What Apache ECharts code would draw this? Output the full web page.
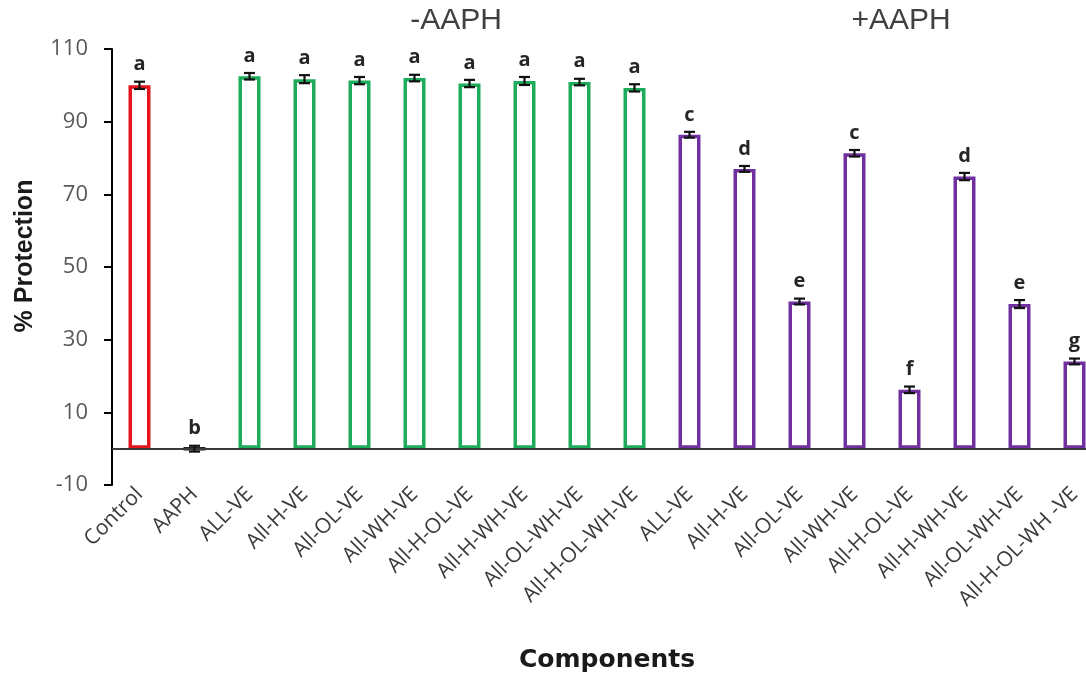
<!DOCTYPE html>
<html><head><meta charset="utf-8">
<script src="https://cdn.jsdelivr.net/npm/echarts@6/dist/echarts.min.js"></script>
<style>html,body{margin:0;padding:0;background:#fff}#c{width:1086px;height:675px}</style>
</head><body><div id="c"></div>
<script>
const categories = ['Control','AAPH','ALL-VE','All-H-VE','All-OL-VE','All-WH-VE','All-H-OL-VE','All-H-WH-VE','All-OL-WH-VE','All-H-OL-WH-VE',
  'ALL-VE','All-H-VE','All-OL-VE','All-WH-VE','All-H-OL-VE','All-H-WH-VE','All-OL-WH-VE','All-H-OL-WH -VE'];
const groups = ['control','aaph','minus','minus','minus','minus','minus','minus','minus','minus',
  'plus','plus','plus','plus','plus','plus','plus','plus'];
const values = [100, 0, 102.5, 101.7, 101.3, 102.0, 100.5, 101.2, 100.9, 99.3,
  86.4, 77.0, 40.5, 81.3, 16.2, 74.9, 39.8, 24.0];
const errors = [1.0, 0.8, 0.9, 1.1, 1.0, 0.9, 1.0, 1.1, 0.9, 1.0,
  0.8, 0.8, 0.8, 0.9, 0.9, 1.0, 1.1, 0.8];
const letters = ['a','b','a','a','a','a','a','a','a','a','c','d','e','c','f','d','e','g'];
const yTickLabels = ['-10','10','30','50','70','90','110'];
const groupTitles = ['-AAPH','+AAPH'];
const axisTitles = ['Components','% Protection'];

const colors = {control:'#E3141C', aaph:'#222222', minus:'#1DAB5C', plus:'#7030A0'};

const chart = echarts.init(document.getElementById('c'));
chart.setOption({
  animation: false,
  grid: {left: 112, right: -16, top: 49, bottom: 190, outerBoundsMode: 'none', containLabel: false},
  graphic: [
    {type:'text', x:456, y:21, style:{text:groupTitles[0], font:'30px "Liberation Sans"', fill:'#404040', align:'center', verticalAlign:'middle', textAlign:'center', textVerticalAlign:'middle'}},
    {type:'text', x:901, y:21, style:{text:groupTitles[1], font:'30px "Liberation Sans"', fill:'#404040', align:'center', verticalAlign:'middle', textAlign:'center', textVerticalAlign:'middle'}},
    {type:'text', x:25, y:256, rotation: Math.PI / 2, style:{text:axisTitles[1], font:'bold 25px "Liberation Sans"', fill:'#1a1a1a', align:'center', verticalAlign:'middle', textAlign:'center', textVerticalAlign:'middle'}}
  ],
  xAxis: {
    type: 'category', data: categories,
    axisLine: {show: false}, axisTick: {show: false},
    axisLabel: {interval: 0, rotate: 45, margin: 6, fontFamily: 'Open Sans', fontSize: 21, color: '#3a3a3a'},
    name: axisTitles[0], nameLocation: 'middle', nameGap: 163,
    nameTextStyle: {fontFamily: 'DejaVu Sans', fontWeight: 'bold', fontSize: 25, color: '#1a1a1a'}
  },
  yAxis: [
    {type: 'value', min: -10, max: 110, show: false},
    {type: 'value', min: 0, max: 120, interval: 20, position: 'left',
     axisLine: {show: true, lineStyle: {color: '#000', width: 2}},
     axisTick: {show: true, length: 8, lineStyle: {color: '#000', width: 2}},
     splitLine: {show: false},
     axisLabel: {margin: 24, fontFamily: 'Open Sans', fontSize: 22, color: '#595959',
       formatter: function (v) { return yTickLabels[Math.round(v / 20)]; }}
    }
  ],
  series: [
    {
      type: 'bar', yAxisIndex: 0, barWidth: 22,
      data: values.map(function (v, i) {
        return {value: v, itemStyle: {color: '#ffffff', borderColor: colors[groups[i]], borderWidth: 3.5}};
      }),
      markLine: {silent: true, symbol: 'none', label: {show: false},
        lineStyle: {color: '#3a3a3a', width: 2, type: 'solid'},
        data: [{yAxis: 0}]}
    },
    {
      type: 'custom', yAxisIndex: 0, z: 5,
      data: values.map(function (v, i) { return [i, v, errors[i]]; }),
      renderItem: function (params, api) {
        const i = api.value(0), v = api.value(1), e = api.value(2);
        const top = api.coord([i, v + e]);
        const bot = api.coord([i, v - e]);
        const x = top[0];
        const s = {stroke: '#111', lineWidth: 2.2};
        return {type: 'group', children: [
          {type: 'line', shape: {x1: x, y1: top[1], x2: x, y2: bot[1]}, style: s},
          {type: 'line', shape: {x1: x - 5.5, y1: top[1], x2: x + 5.5, y2: top[1]}, style: s},
          {type: 'line', shape: {x1: x - 5.5, y1: bot[1], x2: x + 5.5, y2: bot[1]}, style: s},
          {type: 'text', x: x, y: top[1] - 7, style: {text: letters[params.dataIndex],
            font: 'bold 20px "Open Sans"', fill: '#262626',
            align: 'center', verticalAlign: 'bottom', textAlign: 'center', textVerticalAlign: 'bottom'}}
        ]};
      }
    }
  ]
});
</script>
</body></html>
